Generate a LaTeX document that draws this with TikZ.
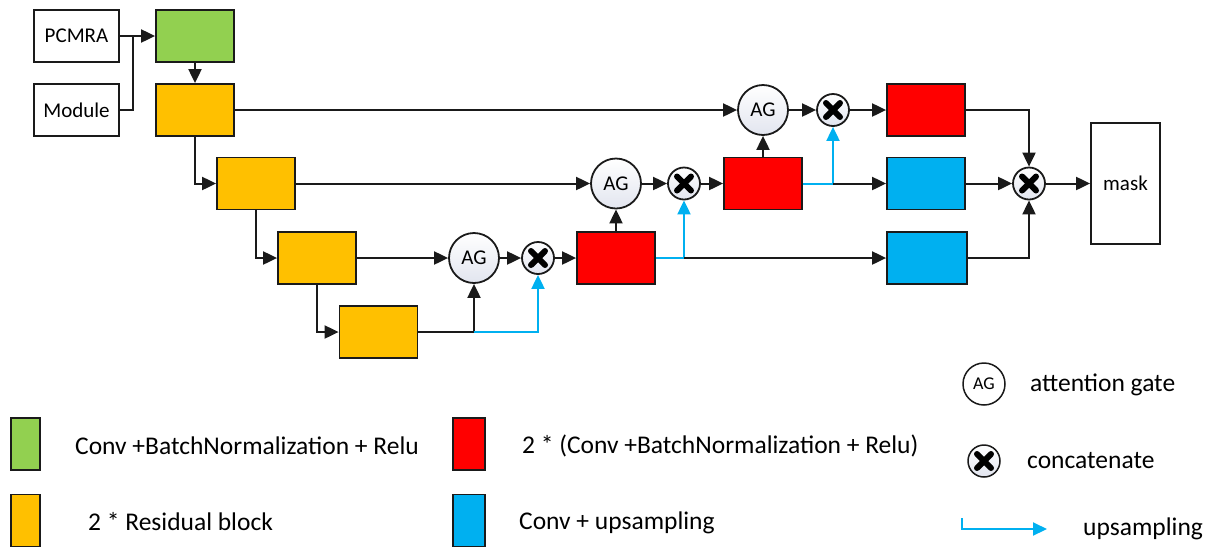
\documentclass[tikz,border=0pt]{standalone}
\usepackage{fontspec}
\setmainfont{Carlito}
\usetikzlibrary{arrows.meta}
\definecolor{cgreen}{HTML}{92D050}
\definecolor{corange}{HTML}{FFC000}
\definecolor{cred}{HTML}{FF0000}
\definecolor{cblue}{HTML}{00B0F0}
\definecolor{edge}{HTML}{1A1A1A}
\definecolor{agbot}{HTML}{E2E5EF}
\begin{document}
\begin{tikzpicture}[x=1pt,y=-1pt,
  every node/.style={font=\fontsize{21}{25}\selectfont},
  blk/.style={draw=edge,line width=1.8pt,minimum width=78pt,minimum height=52pt,inner sep=0pt},
  txtbox/.style={draw=edge,fill=white,line width=1.8pt,minimum width=85pt,minimum height=52pt,inner sep=0pt},
  ag/.style={circle,draw=edge,line width=1.8pt,minimum size=50pt,inner sep=0pt,top color=white,bottom color=agbot},
  cat/.style={circle,draw=edge,line width=1.8pt,minimum size=32pt,inner sep=0pt,top color=white,bottom color=agbot},
  xmark/.style={line width=6pt,line cap=round,black},
  ln/.style={draw=edge,line width=2pt},
  arr/.style={draw=edge,line width=2pt,-{Triangle[length=14pt,width=13pt]}},
  up/.style={draw=cblue,line width=2pt},
  uparr/.style={draw=cblue,line width=2pt,-{Triangle[length=14pt,width=13pt]}},
  legtxt/.style={anchor=west,inner sep=0pt,font=\fontsize{25.5}{30}\selectfont},
  swatch/.style={draw=edge,line width=1.8pt,minimum width=29pt,minimum height=52pt,inner sep=0pt}
]
\useasboundingbox (0,0) rectangle (1209,547);

% input boxes
\node[txtbox] (pcmra) at (76.5,36) {PCMRA};
\node[txtbox] (module) at (76.5,110) {Module};
\coordinate (j1) at (133,36);

% encoder
\node[blk,fill=cgreen] (green) at (195,36) {};
\node[blk,fill=corange] (o1) at (195,110) {};
\node[blk,fill=corange] (o2) at (256,183.5) {};
\node[blk,fill=corange] (o3) at (317,258) {};
\node[blk,fill=corange] (o4) at (378.5,332) {};

% gates and concatenations
\node[ag] (ag1) at (474,258) {AG};
\node[cat] (c1) at (538,258) {};
\node[blk,fill=cred] (r1) at (616,258) {};
\node[ag] (ag2) at (616,183.5) {AG};
\node[cat] (c2) at (684,183.5) {};
\node[blk,fill=cred] (r2) at (763,183.5) {};
\node[ag] (ag3) at (763,110) {AG};
\node[cat] (c3) at (833,110) {};
\node[blk,fill=cred] (r3) at (926,110) {};
\node[blk,fill=cblue] (bl1) at (926,183.5) {};
\node[blk,fill=cblue,minimum width=80pt] (bl2) at (927,258) {};
\node[cat] (cf) at (1029,183.5) {};
\node[draw=edge,fill=white,line width=1.8pt,minimum width=69pt,minimum height=121pt,inner sep=0pt] (mask) at (1125.5,183.5) {mask};

% connectors
\draw[arr] (pcmra) -- (green);
\draw[ln] (module.east) -| (j1);
\draw[arr] (green) -- (o1);
\draw[arr] (o1.south) |- (o2.west);
\draw[arr] (o2.south) |- (o3.west);
\draw[arr] (o3.south) |- (o4.west);
\draw[arr] (o1) -- (ag3);
\draw[arr] (o2) -- (ag2);
\draw[arr] (o3) -- (ag1);
\draw[arr] (o4.east) -| (ag1.south);
\draw[uparr] (ag1.south |- o4.east) -| (c1.south);
\draw[arr] (ag1) -- (c1);
\draw[arr] (c1) -- (r1);
\draw[arr] (r1) -- (ag2);
\draw[uparr] (r1.east) -| (c2.south);
\draw[arr] (c2.south |- r1.east) -- (bl2.west);
\draw[arr] (ag2) -- (c2);
\draw[arr] (c2) -- (r2);
\draw[arr] (r2) -- (ag3);
\draw[uparr] (r2.east) -| (c3.south);
\draw[arr] (c3.south |- r2.east) -- (bl1.west);
\draw[arr] (ag3) -- (c3);
\draw[arr] (c3) -- (r3);
\draw[arr] (r3.east) -| (cf.north);
\draw[arr] (bl1) -- (cf);
\draw[arr] (bl2.east) -| (cf.south);
\draw[arr] (cf) -- (mask);

% legend
\node[swatch,fill=cgreen] (sg) at (25.5,444) {};
\node[swatch,fill=corange] (so) at (25.5,520.5) {};
\node[swatch,fill=cred,minimum width=32pt] (sr) at (469,444) {};
\node[swatch,fill=cblue,minimum width=32pt] (sb) at (469,520.5) {};
\node[legtxt] (tg) at (75,446) {Conv +BatchNormalization + Relu};
\node[legtxt] (to) at (88,522) {2 * Residual block};
\node[legtxt] (tr) at (522,446) {2 * (Conv +BatchNormalization + Relu)};
\node[legtxt] (tb) at (519,523) {Conv + upsampling};
\node[circle,draw=edge,fill=white,line width=1.5pt,minimum size=42pt,inner sep=0pt,font=\fontsize{18}{20}\selectfont] (lag) at (984,384) {AG};
\node[cat,line width=1.5pt] (lc) at (984,461) {};
\node[legtxt] (tag) at (1030,385) {attention gate};
\node[legtxt] (tc) at (1027,461) {concatenate};
\coordinate (lu1) at (962,518);
\coordinate (lu2) at (1047,529);
\draw[uparr] (lu1) |- (lu2);
\node[legtxt] (tu) at (1083,529) {upsampling};

% concatenate crosses
\foreach \n in {c1,c2,c3,cf,lc}{
  \draw[xmark] (\n.center) ++(-7,-7) -- ++(14,14);
  \draw[xmark] (\n.center) ++(7,-7) -- ++(-14,14);
}
\end{tikzpicture}
\end{document}
